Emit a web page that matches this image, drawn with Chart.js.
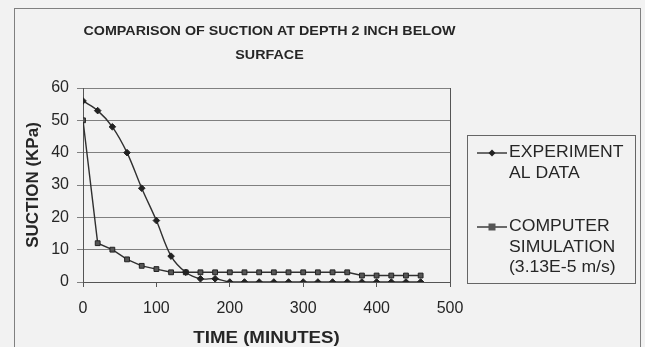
<!DOCTYPE html>
<html>
<head>
<meta charset="utf-8">
<script src="https://cdn.jsdelivr.net/npm/chart.js@4"></script>
<style>
    html, body { margin: 0; padding: 0; background: #f2f2f2; }
    #wrap { width: 645px; height: 347px; position: relative; }
</style>
</head>
<body>
<div id="wrap"><canvas id="chart" width="645" height="347"></canvas></div>
<script>
// Data
const times = [0, 20, 40, 60, 80, 100, 120, 140, 160, 180, 200, 220, 240, 260, 280, 300, 320, 340, 360, 380, 400, 420, 440, 460];
const experimental = [56, 53, 48, 40, 29, 19, 8, 3, 1, 1, 0, 0, 0, 0, 0, 0, 0, 0, 0, 0, 0, 0, 0, 0];
const simulation = [50, 12, 10, 7, 5, 4, 3, 3, 3, 3, 3, 3, 3, 3, 3, 3, 3, 3, 3, 2, 2, 2, 2, 2];
const xTicks = [0, 100, 200, 300, 400, 500];
const yTicks = [0, 10, 20, 30, 40, 50, 60];

const titleLines = ['COMPARISON OF SUCTION AT DEPTH 2 INCH BELOW', 'SURFACE'];
const xTitle = 'TIME (MINUTES)';
const yTitle = 'SUCTION (KPa)';
const legendLines = [
    ['EXPERIMENT', 'AL DATA'],
    ['COMPUTER', 'SIMULATION', '(3.13E-5 m/s)']
];

const FONT = '"Liberation Sans", Arial, sans-serif';
const INK = '#262626';
const STRETCH = 1.1; // the scan is a little wider than it is tall

// text drawn with the same horizontal stretch as the scanned original
const stretchText = (ctx, text, x, y) => {
    ctx.save();
    ctx.translate(x, y);
    ctx.scale(STRETCH, 1);
    ctx.fillText(text, 0, 0);
    ctx.restore();
};

const toPoints = (values) => values.map((v, i) => ({ x: times[i], y: v }));

// Frame, title, axis titles, plot border and the legend box
const decorations = {
    id: 'decorations',
    beforeDraw(chart) {
        const { ctx } = chart;
        ctx.save();
        ctx.strokeStyle = '#808080';
        ctx.lineWidth = 1;
        ctx.strokeRect(14.5, 8.5, 626, 345);
        ctx.restore();
    },
    afterDraw(chart) {
        const { ctx, chartArea: a } = chart;
        const cx = (a.left + a.right) / 2;
        ctx.save();
        ctx.fillStyle = INK;
        ctx.textAlign = 'center';
        ctx.textBaseline = 'middle';

        ctx.font = `bold 13px ${FONT}`;
        stretchText(ctx, titleLines[0], cx + 3, 31);
        stretchText(ctx, titleLines[1], cx + 3, 55);

        ctx.font = `bold 17px ${FONT}`;
        stretchText(ctx, xTitle, cx, 338);

        ctx.save();
        ctx.translate(33, (a.top + a.bottom) / 2);
        ctx.rotate(-Math.PI / 2);
        ctx.fillText(yTitle, 0, 0);
        ctx.restore();

        // plot border (right side)
        ctx.strokeStyle = '#555';
        ctx.lineWidth = 1;
        ctx.beginPath();
        ctx.moveTo(Math.round(a.right) + 0.5, a.top);
        ctx.lineTo(Math.round(a.right) + 0.5, a.bottom);
        ctx.stroke();

        // legend
        ctx.strokeStyle = '#666';
        ctx.strokeRect(467.5, 135.5, 168, 148);
        ctx.font = `16px ${FONT}`;
        ctx.textAlign = 'left';
        const rows = [153, 227];
        chart.data.datasets.forEach((ds, i) => {
            const y = rows[i];
            ctx.strokeStyle = ds.borderColor;
            ctx.lineWidth = 1.4;
            ctx.beginPath();
            ctx.moveTo(477, y);
            ctx.lineTo(507, y);
            ctx.stroke();
            ctx.fillStyle = ds.pointBackgroundColor;
            if (ds.pointStyle === 'rectRot') {
                ctx.beginPath();
                ctx.moveTo(492, y - 3.5);
                ctx.lineTo(495.5, y);
                ctx.lineTo(492, y + 3.5);
                ctx.lineTo(488.5, y);
                ctx.closePath();
                ctx.fill();
            } else {
                ctx.fillRect(488.5, y - 3.5, 7, 7);
            }
            ctx.fillStyle = INK;
            legendLines[i].forEach((t, k) => stretchText(ctx, t, 509, y + k * 20.3));
        });
        ctx.restore();
    }
};

new Chart(document.getElementById('chart'), {
    type: 'line',
    data: {
        datasets: [{
            label: legendLines[0].join(''),
            data: toPoints(experimental),
            borderColor: '#303030',
            borderWidth: 1.4,
            pointStyle: 'rectRot',
            pointRadius: 3.3,
            pointBackgroundColor: '#222',
            pointBorderColor: '#222',
            pointBorderWidth: 1,
            tension: 0.35
        }, {
            label: legendLines[1].join(' '),
            data: toPoints(simulation),
            borderColor: '#303030',
            borderWidth: 1.4,
            pointStyle: 'rect',
            pointRadius: 3.4,
            pointBackgroundColor: '#555',
            pointBorderColor: '#222',
            pointBorderWidth: 1,
            tension: 0
        }]
    },
    options: {
        responsive: false,
        animation: false,
        layout: { padding: { left: 14, right: 195, top: 88, bottom: 0 } },
        plugins: {
            legend: { display: false },
            title: { display: false },
            tooltip: { enabled: false }
        },
        scales: {
            x: {
                type: 'linear',
                min: xTicks[0],
                max: xTicks[xTicks.length - 1],
                afterBuildTicks: (scale) => { scale.ticks = xTicks.map(v => ({ value: v })); },
                afterFit: (scale) => { scale.height = 65; },
                grid: { drawOnChartArea: false, tickLength: 5, color: '#555' },
                border: { display: true, color: '#555' },
                ticks: { color: INK, font: { family: FONT, size: 16 }, padding: 12 }
            },
            y: {
                min: yTicks[0],
                max: yTicks[yTicks.length - 1],
                afterBuildTicks: (scale) => { scale.ticks = yTicks.map(v => ({ value: v })); },
                afterFit: (scale) => { scale.width = 69; },
                grid: { color: '#808080', tickLength: 6 },
                border: { display: true, color: '#555' },
                ticks: { color: INK, font: { family: FONT, size: 16 }, padding: 8 }
            }
        }
    },
    plugins: [decorations]
});
</script>
</body>
</html>
